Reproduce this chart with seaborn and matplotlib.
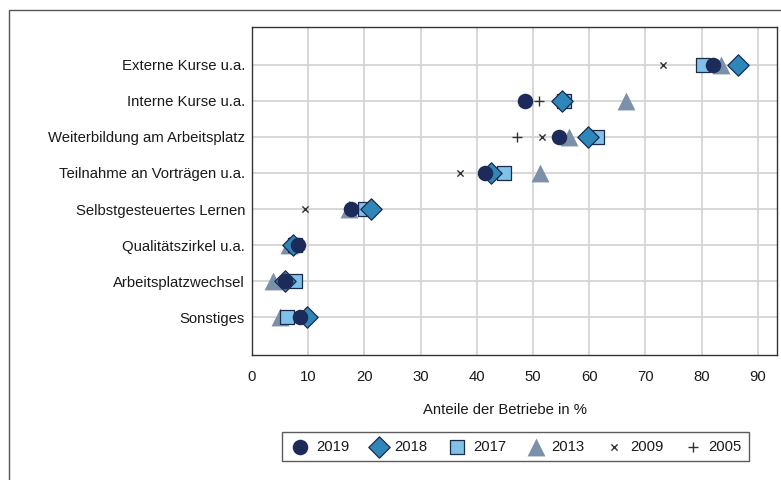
import numpy as np
import pandas as pd
import matplotlib.pyplot as plt
import seaborn as sns
from matplotlib.patches import Rectangle

categories = ["Externe Kurse u.a.", "Interne Kurse u.a.", "Weiterbildung am Arbeitsplatz",
              "Teilnahme an Vorträgen u.a.", "Selbstgesteuertes Lernen", "Qualitätszirkel u.a.",
              "Arbeitsplatzwechsel", "Sonstiges"]
nan = np.nan
v2019 = [82.0, 48.6, 54.6, 41.5, 17.6, 8.2, 5.9, 8.5]
v2018 = [86.4, 55.2, 59.7, 42.6, 21.1, 7.3, 5.9, 9.7]
v2017 = [80.2, 55.5, 61.3, 44.9, 20.1, 7.6, 7.6, 6.3]
v2013 = [83.4, 66.5, 56.4, 51.2, 17.3, 6.5, 3.7, 4.9]
v2009 = [73.2, nan, 51.5, 37.0, 9.5, nan, nan, nan]
v2005 = [nan, 51.0, 47.1, nan, nan, nan, nan, nan]
x_ticks = list(range(0, 100, 10))

sns.set_style("whitegrid", {"grid.color": "#d4d4d4", "axes.edgecolor": "#333333"})
plt.rcParams['font.family'] = ['Liberation Sans', 'DejaVu Sans']
plt.rcParams['text.color'] = '#1a1a1a'
plt.rcParams['xtick.color'] = '#1a1a1a'
plt.rcParams['ytick.color'] = '#1a1a1a'
plt.rcParams['axes.labelcolor'] = '#1a1a1a'

df = pd.DataFrame({"Kategorie": categories, "2019": v2019, "2018": v2018, "2017": v2017,
                   "2013": v2013, "2009": v2009, "2005": v2005})
df["pos"] = range(len(categories))

fig = plt.figure(figsize=(7.81, 4.8), dpi=100)
ax = fig.add_axes([0.3227, 0.2604, 0.6722, 0.6833])

edge = "#1c2a4a"
# draw order: oldest first so 2019 sits on top
styles = [
    ("2005", dict(marker="+", color="#333333", s=45, linewidth=1.0)),
    ("2009", dict(marker="x", color="#333333", s=20, linewidth=1.0)),
    ("2013", dict(marker="^", color="#7b91aa", s=165, linewidth=0)),
    ("2017", dict(marker="s", color="#80c1ea", s=115, edgecolor=edge, linewidth=0.9)),
    ("2018", dict(marker="D", color="#2f86b9", s=118, edgecolor=edge, linewidth=0.9)),
    ("2019", dict(marker="o", color="#1c2b5a", s=125, linewidth=0)),
]
for year, kw in styles:
    sns.scatterplot(data=df, x=year, y="pos", ax=ax, label=year, zorder=3, **kw)

ax.set_xlim(0, 93.4)
ax.set_ylim(len(categories) - 1 + 1.05, -1.05)
ax.set_yticks(range(len(categories)))
ax.set_yticklabels(categories, fontsize=10.7)
ax.set_xticks(x_ticks)
ax.set_xticklabels([str(t) for t in x_ticks], fontsize=10.7)
ax.tick_params(axis="x", length=5, width=1, color="#333333", pad=6)
ax.tick_params(axis="y", length=0, pad=5)
ax.grid(True, linewidth=1.3)
for sp in ax.spines.values():
    sp.set_linewidth(1.0)
ax.set_ylabel("")
ax.set_xlabel("Anteile der Betriebe in %", fontsize=10.7)
ax.xaxis.set_label_coords(0.482, -0.145)

h, l = ax.get_legend_handles_labels()
order = ["2019", "2018", "2017", "2013", "2009", "2005"]
hh = [h[l.index(y)] for y in order]
leg = ax.legend(hh, order, loc="center", bbox_to_anchor=(0.66, 0.069), bbox_transform=fig.transFigure,
                ncol=6, frameon=True, fancybox=False, edgecolor="#333333", fontsize=10.7,
                handletextpad=0.3, columnspacing=1.25, borderpad=0.5, handlelength=1.5)
leg.get_frame().set_linewidth(1.0)

fig.patches.append(Rectangle((9 / 781, -0.1), 1.2, (470 / 480) + 0.1, transform=fig.transFigure,
                             fill=False, edgecolor="#555555", linewidth=1.0, clip_on=False))

fig.savefig("out.png", dpi=100)
